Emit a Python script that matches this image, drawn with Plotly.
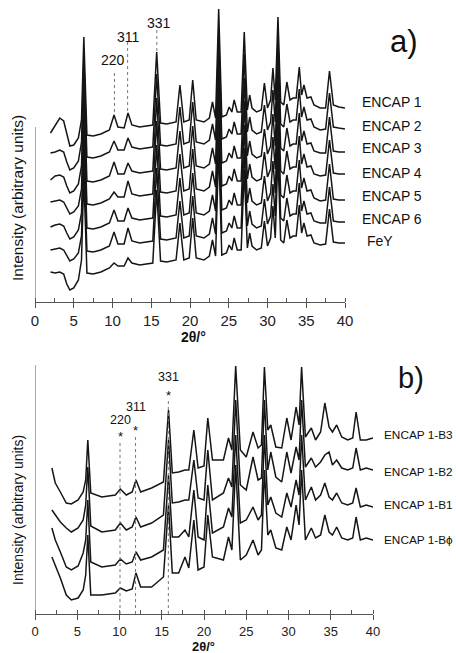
import plotly.graph_objects as go

# ---------------- panel a) ----------------
two_theta_a = [2.0, 2.6, 3.2, 3.7, 4.1, 4.5, 5.0, 5.6, 6.0, 6.3, 6.7, 7.5, 8.5, 9.6, 10.2, 10.7, 11.5, 12.0,
               12.5, 13.5, 15.2, 15.7, 16.2, 17.0, 18.2, 18.7, 19.2, 19.9, 20.35, 20.8, 21.8, 22.5, 22.9, 23.3,
               23.7, 24.1, 24.7, 25.05, 25.4, 25.7, 26.1, 26.6, 27.0, 27.4, 27.7, 28.0, 28.6, 29.2, 29.6, 30.0,
               30.4, 30.7, 31.0, 31.35, 31.7, 32.1, 32.5, 32.9, 33.3, 33.7, 34.1, 34.4, 34.7, 35.1, 35.6, 36.0,
               36.8, 37.5, 38.0, 38.5, 39.2, 40.0]

encap_1 = [31, 39, 46, 43, 29, 18, 19, 26, 44, 127, 29, 28, 30, 34, 49, 37, 36, 51, 39, 37, 39, 112, 41, 40,
           42, 79, 42, 44, 84, 44, 42, 46, 62, 46, 155, 47, 49, 57, 52, 64, 52, 52, 132, 54, 69, 56, 52, 54,
           81, 56, 64, 96, 64, 147, 62, 59, 82, 64, 66, 66, 97, 69, 79, 66, 67, 59, 56, 56, 93, 59, 57, 56]
encap_2 = [33, 34, 36, 34, 24, 16, 18, 25, 44, 127, 29, 28, 30, 34, 45, 36, 36, 48, 39, 37, 39, 112, 41, 40,
           42, 79, 42, 44, 84, 44, 42, 46, 62, 46, 155, 47, 49, 57, 52, 64, 52, 52, 132, 54, 69, 56, 52, 54,
           81, 56, 64, 96, 64, 147, 62, 59, 82, 64, 66, 66, 97, 69, 79, 66, 67, 59, 56, 57, 93, 59, 58, 57]
encap_3 = [30, 34, 35, 33, 24, 17, 19, 26, 44, 127, 29, 28, 30, 34, 48, 36, 36, 47, 39, 37, 39, 112, 41, 40,
           42, 79, 42, 44, 84, 44, 42, 46, 62, 46, 155, 47, 49, 57, 52, 64, 52, 52, 132, 54, 69, 56, 52, 54,
           81, 56, 64, 96, 64, 147, 62, 59, 82, 64, 66, 66, 97, 69, 79, 66, 67, 59, 57, 57, 93, 59, 58, 58]
encap_4 = [31, 32, 33, 31, 25, 19, 21, 27, 44, 127, 29, 28, 30, 34, 41, 36, 36, 52, 39, 37, 39, 112, 41, 40,
           42, 79, 42, 44, 84, 44, 42, 46, 62, 46, 155, 47, 49, 57, 52, 64, 52, 52, 132, 54, 69, 56, 52, 54,
           81, 56, 64, 96, 64, 147, 62, 59, 82, 64, 66, 66, 97, 69, 79, 66, 67, 59, 57, 58, 93, 60, 59, 59]
encap_5 = [30, 32, 33, 31, 24, 18, 20, 27, 44, 127, 29, 28, 30, 34, 47, 36, 36, 49, 39, 37, 39, 112, 41, 40,
           42, 79, 42, 44, 84, 44, 42, 46, 62, 46, 155, 47, 49, 57, 52, 64, 52, 52, 132, 54, 69, 56, 52, 54,
           81, 56, 64, 96, 64, 147, 62, 59, 82, 64, 66, 66, 97, 69, 79, 66, 67, 59, 56, 57, 93, 58, 57, 57]
encap_6 = [30, 31, 32, 30, 24, 19, 21, 27, 44, 127, 29, 28, 30, 34, 48, 36, 36, 52, 39, 37, 39, 112, 41, 40,
           42, 79, 42, 44, 84, 44, 42, 46, 62, 46, 155, 47, 49, 57, 52, 64, 52, 52, 132, 54, 69, 56, 52, 54,
           81, 56, 64, 96, 64, 147, 62, 59, 82, 64, 66, 66, 97, 69, 79, 66, 67, 59, 57, 57, 93, 59, 58, 58]
fe_y = [30, 29, 30, 28, 18, 12, 14, 22, 42, 127, 29, 28, 30, 34, 39, 36, 36, 44, 39, 37, 39, 112, 41, 40,
        42, 79, 42, 44, 84, 44, 42, 46, 62, 46, 155, 47, 49, 57, 52, 64, 52, 52, 132, 54, 69, 56, 52, 54,
        81, 56, 64, 96, 64, 147, 62, 59, 82, 64, 66, 66, 97, 69, 79, 66, 67, 59, 57, 58, 93, 60, 59, 59]

names_a = ["ENCAP 1", "ENCAP 2", "ENCAP 3", "ENCAP 4", "ENCAP 5", "ENCAP 6", "FeY"]
series_a = [encap_1, encap_2, encap_3, encap_4, encap_5, encap_6, fe_y]

# ---------------- panel b) ----------------
two_theta_b = [2.0, 2.4, 3.0, 3.7, 4.3, 5.1, 5.7, 6.0, 6.25, 6.6, 7.9, 9.5, 10.1, 10.8, 11.5, 11.95, 12.5,
               13.8, 15.2, 15.8, 16.25, 17.0, 17.75, 18.2, 18.8, 19.3, 20.0, 20.45, 21.0, 22.3, 22.9, 23.3,
               23.75, 24.3, 25.0, 25.8, 26.4, 26.8, 27.15, 27.55, 27.9, 28.5, 29.2, 29.8, 30.3, 30.9, 31.25,
               31.55, 32.0, 32.7, 33.2, 33.8, 34.3, 34.8, 35.2, 35.7, 36.3, 37.0, 37.6, 38.0, 38.5, 39.2, 40.0]

encap_1_b3 = [146, 131, 122, 111, 110, 114, 122, 134, 174, 121, 117, 119, 125, 119, 122, 134, 122, 126, 132,
              204, 141, 142, 144, 144, 184, 146, 148, 196, 154, 154, 176, 164, 248, 164, 157, 182, 166, 169,
              247, 184, 189, 167, 166, 196, 174, 207, 189, 247, 177, 186, 174, 182, 211, 187, 182, 189, 177,
              174, 176, 202, 174, 174, 176]
encap_1_b2 = [104, 99, 92, 86, 82, 86, 94, 109, 147, 88, 82, 84, 91, 84, 87, 97, 87, 91, 99,
              174, 111, 112, 114, 114, 154, 116, 114, 164, 114, 121, 136, 127, 214, 129, 124, 157, 134, 136,
              214, 144, 162, 137, 132, 162, 141, 167, 154, 214, 147, 156, 147, 152, 159, 162, 149, 154, 146,
              144, 146, 166, 144, 146, 144]
encap_1_b1 = [86, 74, 62, 47, 44, 48, 61, 74, 114, 52, 47, 49, 55, 50, 52, 62, 54, 57, 64,
              139, 77, 77, 84, 77, 124, 77, 74, 129, 81, 87, 106, 97, 179, 91, 94, 107, 94, 99,
              179, 109, 117, 101, 97, 121, 107, 134, 119, 179, 114, 127, 114, 119, 131, 117, 114, 121, 111,
              109, 111, 126, 107, 109, 107]
encap_1_bphi = [57, 49, 36, 19, 14, 16, 24, 39, 79, 19, 19, 21, 26, 23, 25, 41, 27, 27, 37,
                109, 41, 41, 57, 46, 94, 44, 47, 99, 57, 54, 77, 64, 149, 54, 59, 74, 59, 64,
                144, 79, 84, 66, 64, 87, 74, 109, 89, 144, 74, 86, 76, 79, 99, 82, 79, 87, 76,
                74, 76, 97, 74, 76, 74]

names_b = ["ENCAP 1-B3", "ENCAP 1-B2", "ENCAP 1-B1", "ENCAP 1-Bϕ"]
series_b = [encap_1_b3, encap_1_b2, encap_1_b1, encap_1_bphi]

hkl_labels = ["220", "311", "331"]
hkl_pos_a = [10.25, 11.95, 15.72]
hkl_pos_b = [10.06, 11.9, 15.78]
x_ticks = [0, 5, 10, 15, 20, 25, 30, 35, 40]

# ---------------- styling / layout ----------------
FONT = "Liberation Sans, Arial, Helvetica, sans-serif"
LINE = "#151515"
AXC = "#555555"
W, H = 456, 653

offsets_a = [138, 116, 92, 69, 45, 22, 0]
label_y_a = [200, 176, 154, 129, 106, 83, 61]
label_x_a = [360, 360, 360, 360, 360, 360, 365]
label_y_b = [179, 142, 109, 74]

fig = go.Figure()

for vals, off in zip(series_a, offsets_a):
    fig.add_trace(go.Scatter(x=two_theta_a, y=[v + off for v in vals], mode="lines",
                             line=dict(color=LINE, width=1.5), xaxis="x", yaxis="y",
                             showlegend=False, hoverinfo="skip"))
for vals in series_b:
    fig.add_trace(go.Scatter(x=two_theta_b, y=vals, mode="lines",
                             line=dict(color=LINE, width=1.5), xaxis="x2", yaxis="y2",
                             showlegend=False, hoverinfo="skip"))

def xaxis_style(domain, anchor, size):
    return dict(domain=domain, anchor=anchor, range=[0, 40], tickvals=x_ticks,
                showline=True, linecolor=AXC, linewidth=1, ticks="outside", ticklen=5,
                tickcolor=AXC, tickwidth=1, showgrid=False, zeroline=False, automargin=False,
                tickfont=dict(family=FONT, size=size, color="#222"),
                minor=dict(dtick=2.5, tick0=0, ticks="inside", ticklen=4, tickcolor=AXC, showgrid=False))

shapes = []
annotations = []

# y axis spines (short, as in the original)
shapes.append(dict(type="line", xref="x", yref="y", x0=0, x1=0, y0=0, y1=175,
                   line=dict(color=AXC, width=1)))
shapes.append(dict(type="line", xref="x2", yref="y2", x0=0, x1=0, y0=0, y1=249,
                   line=dict(color=AXC, width=1)))

# panel a reflections
a_line_top = [232, 260, 274]
a_line_bot = [190, 191, 251]
a_text_y = [242, 265, 279]
a_text_x = [10.1, 12.1, 15.98]
for lab, p, t, b, ty, tx in zip(hkl_labels, hkl_pos_a, a_line_top, a_line_bot, a_text_y, a_text_x):
    shapes.append(dict(type="line", xref="x", yref="y", x0=p, x1=p, y0=b, y1=t,
                       line=dict(color="#777", width=1, dash="dot")))
    annotations.append(dict(x=tx, y=ty, xref="x", yref="y", text=lab, showarrow=False,
                            font=dict(family=FONT, size=14, color="#111"),
                            xanchor="center", yanchor="middle"))

# panel b reflections
b_line_top = [172, 179, 214]
b_star_y = [178, 184, 219]
b_text_y = [194, 207, 237]
for lab, p, t, sy, ty in zip(hkl_labels, hkl_pos_b, b_line_top, b_star_y, b_text_y):
    shapes.append(dict(type="line", xref="x2", yref="y2", x0=p, x1=p, y0=0, y1=t,
                       line=dict(color="#777", width=1, dash="dot")))
    annotations.append(dict(x=p, y=sy, xref="x2", yref="y2", text="*", showarrow=False,
                            font=dict(family=FONT, size=13, color="#111"),
                            xanchor="center", yanchor="middle"))
    annotations.append(dict(x=p, y=ty, xref="x2", yref="y2", text=lab, showarrow=False,
                            font=dict(family=FONT, size=12.5, color="#111"),
                            xanchor="center", yanchor="middle"))

# series labels
for n, ly, lx in zip(names_a, label_y_a, label_x_a):
    annotations.append(dict(x=lx / W, y=ly, xref="paper", yref="y", text=n, showarrow=False,
                            font=dict(family=FONT, size=14, color="#111"),
                            xanchor="left", yanchor="middle"))
for n, ly in zip(names_b, label_y_b):
    annotations.append(dict(x=382 / W, y=ly, xref="paper", yref="y2", text=n, showarrow=False,
                            font=dict(family=FONT, size=11.8, color="#111"),
                            xanchor="left", yanchor="middle"))

# panel letters
annotations.append(dict(x=404 / W, y=1 - 42 / H, xref="paper", yref="paper", text="a)", showarrow=False,
                        font=dict(family=FONT, size=31, color="#111"), xanchor="center", yanchor="middle"))
annotations.append(dict(x=411 / W, y=1 - 378 / H, xref="paper", yref="paper", text="b)", showarrow=False,
                        font=dict(family=FONT, size=29, color="#111"), xanchor="center", yanchor="middle"))

# axis titles
annotations.append(dict(x=193 / W, y=1 - 337 / H, xref="paper", yref="paper", text="<b>2θ/°</b>",
                        showarrow=False, font=dict(family=FONT, size=14, color="#111"),
                        xanchor="center", yanchor="middle"))
annotations.append(dict(x=203 / W, y=1 - 646 / H, xref="paper", yref="paper", text="<b>2θ/°</b>",
                        showarrow=False, font=dict(family=FONT, size=13, color="#111"),
                        xanchor="center", yanchor="middle"))
annotations.append(dict(x=18 / W, y=1 - 198 / H, xref="paper", yref="paper",
                        text="Intensity (arbitrary units)", textangle=-90, showarrow=False,
                        font=dict(family=FONT, size=15.5, color="#111"), xanchor="center", yanchor="middle"))
annotations.append(dict(x=18 / W, y=1 - 510 / H, xref="paper", yref="paper",
                        text="Intensity (arbitrary units)", textangle=-90, showarrow=False,
                        font=dict(family=FONT, size=14, color="#111"), xanchor="center", yanchor="middle"))

fig.update_layout(
    width=W, height=H, margin=dict(l=0, r=0, t=0, b=0),
    paper_bgcolor="white", plot_bgcolor="white", showlegend=False,
    xaxis=xaxis_style([35 / W, 345 / W], "y", 15),
    yaxis=dict(domain=[1 - 302 / H, 1.0], range=[0, 302], visible=False, anchor="x"),
    xaxis2=xaxis_style([35 / W, 373 / W], "y2", 13),
    yaxis2=dict(domain=[1 - 614 / H, 1 - 355 / H], range=[0, 259], visible=False, anchor="x2"),
    shapes=shapes, annotations=annotations,
)

fig.write_html("out.html", config={"displayModeBar": False},
               post_script="document.body.style.margin='0px';document.body.style.overflow='hidden';")
